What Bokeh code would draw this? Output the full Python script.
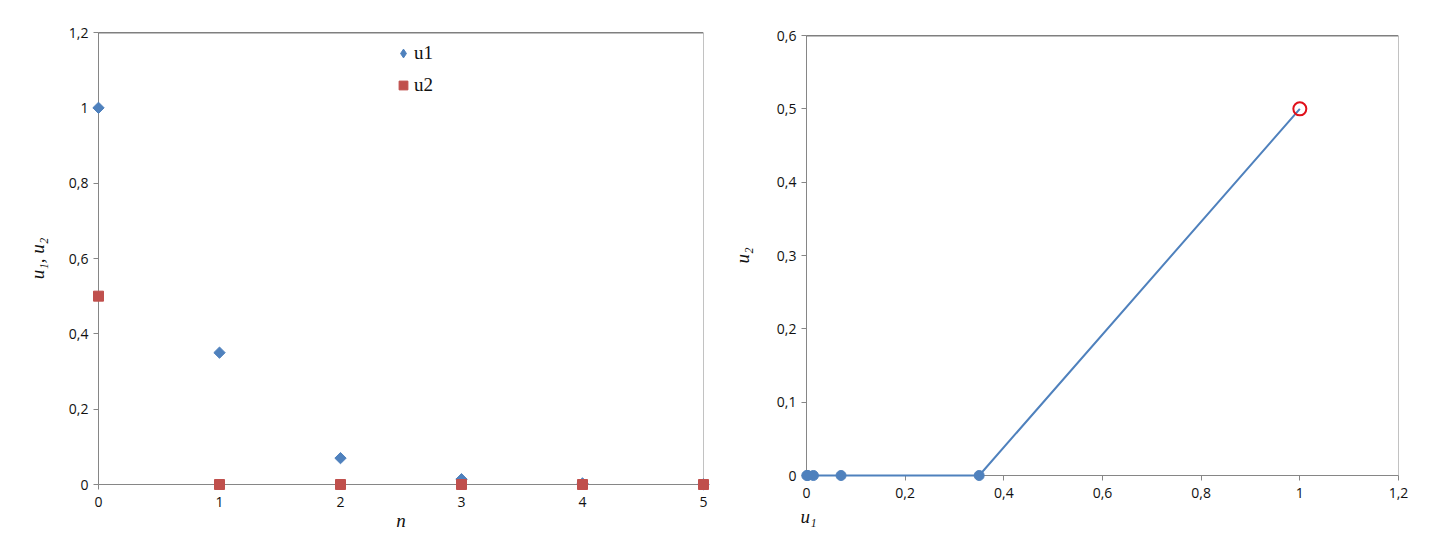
import math
from bokeh.plotting import figure
from bokeh.layouts import row, column
from bokeh.models import Span, Legend, LegendItem, Title, FixedTicker, Range1d
from bokeh.embed import file_html
from bokeh.resources import INLINE

# ---- data ----
n_vals = [0, 1, 2, 3, 4, 5]
u1_vals = [1.0, 0.35, 0.07, 0.014, 0.0028, 0.00056]
u2_vals = [0.5, 0.0, 0.0, 0.0, 0.0, 0.0]

left_x_ticks = [0, 1, 2, 3, 4, 5]
left_x_labels = ["0", "1", "2", "3", "4", "5"]
left_y_ticks = [0, 0.2, 0.4, 0.6, 0.8, 1.0, 1.2]
left_y_labels = ["0", "0,2", "0,4", "0,6", "0,8", "1", "1,2"]
right_x_ticks = [0, 0.2, 0.4, 0.6, 0.8, 1.0, 1.2]
right_x_labels = ["0", "0,2", "0,4", "0,6", "0,8", "1", "1,2"]
right_y_ticks = [0, 0.1, 0.2, 0.3, 0.4, 0.5, 0.6]
right_y_labels = ["0", "0,1", "0,2", "0,3", "0,4", "0,5", "0,6"]

BLUE = "#4F81BD"
RED = "#C0504D"
RING = "#E0101A"
AXIS = "#868686"
TICK_FONT = "Open Sans"
SERIF = "Liberation Serif"


def style_axes(p, xt, xl, yt, yl):
    p.xaxis.ticker = FixedTicker(ticks=xt, minor_ticks=[])
    p.yaxis.ticker = FixedTicker(ticks=yt, minor_ticks=[])
    p.xaxis.major_label_overrides = {t: l for t, l in zip(xt, xl)}
    p.yaxis.major_label_overrides = {t: l for t, l in zip(yt, yl)}
    for ax in (p.xaxis, p.yaxis):
        ax.axis_line_color = AXIS
        ax.major_tick_line_color = AXIS
        ax.major_tick_out = 5
        ax.major_tick_in = 0
        ax.minor_tick_line_color = None
        ax.major_label_text_font = TICK_FONT
        ax.major_label_text_font_size = "14px"
        ax.major_label_text_color = "#111111"
        ax.axis_label_text_font = SERIF
        ax.axis_label_text_font_style = "italic"
        ax.axis_label_text_font_size = "19px"
        ax.axis_label_text_color = "#111111"
    p.xaxis.major_label_standoff = 7
    p.yaxis.major_label_standoff = 5
    p.xgrid.grid_line_color = None
    p.ygrid.grid_line_color = None
    p.outline_line_color = None


# ---- left chart ----
p1 = figure(width=728, height=540, output_backend="svg", toolbar_location=None,
            x_range=Range1d(0, 5), y_range=Range1d(0, 1.2),
            min_border_left=98, min_border_right=25, min_border_top=32, min_border_bottom=56)
style_axes(p1, left_x_ticks, left_x_labels, left_y_ticks, left_y_labels)
p1.xaxis.axis_label = "n"
p1.xaxis.axis_label_standoff = 0
p1.xaxis.axis_label_text_line_height = 1.0
p1.xaxis.major_label_text_line_height = 1.0
p1.yaxis.axis_label = "u\u2081, u\u2082"
p1.yaxis.axis_label_standoff = 18

p1.add_layout(Span(location=1.2, dimension="width", line_color="black", line_width=1.5))
p1.add_layout(Span(location=5, dimension="height", line_color=AXIS, line_width=1))

# legend-only proxy (tiny, hidden under the real markers) so the legend swatch is a diamond
r1_leg = p1.scatter(n_vals, u1_vals, marker="diamond", size=1, color=BLUE)
r1 = p1.scatter(n_vals, u1_vals, marker="square", angle=math.pi / 4, size=8, color=BLUE, level="overlay")
r2 = p1.scatter(n_vals, u2_vals, marker="square", size=10, color=RED, level="overlay")

leg = Legend(items=[LegendItem(label="u1", renderers=[r1_leg]), LegendItem(label="u2", renderers=[r2])],
             location=(294, 388), padding=0, margin=0, spacing=10,
             glyph_width=22, glyph_height=22, label_height=22, label_standoff=0,
             label_text_font=SERIF, label_text_font_size="19px", label_text_color="#111111",
             border_line_color=None, background_fill_alpha=0)
p1.add_layout(leg)

# ---- right chart ----
p2 = figure(width=712, height=540, output_backend="svg", toolbar_location=None,
            x_range=Range1d(0, 1.2), y_range=Range1d(0, 0.6),
            min_border_left=78, min_border_right=42, min_border_top=35, min_border_bottom=65)
style_axes(p2, right_x_ticks, right_x_labels, right_y_ticks, right_y_labels)
p2.yaxis.axis_label = "u\u2082"
p2.yaxis.axis_label_standoff = 21
p2.xaxis.major_label_text_line_height = 1.0

p2.add_layout(Span(location=0.6, dimension="width", line_color="black", line_width=1.5))
p2.add_layout(Span(location=1.2, dimension="height", line_color=AXIS, line_width=1))

p2.line(u1_vals, u2_vals, line_color=BLUE, line_width=2, level="overlay")
p2.scatter(u1_vals[1:], u2_vals[1:], marker="circle", size=10, color=BLUE, level="overlay")
p2.scatter(u1_vals[:1], u2_vals[:1], marker="circle", size=13, fill_color=None,
           line_color=RING, line_width=2, level="overlay")

p2.add_layout(Title(text="u\u2081", align="left", offset=-6, standoff=6,
                    text_font=SERIF, text_font_style="italic", text_font_size="19px",
                    text_color="#111111"), "below")

layout = row(column(p1), column(p2))
open("out.html", "w").write(file_html(layout, INLINE))
